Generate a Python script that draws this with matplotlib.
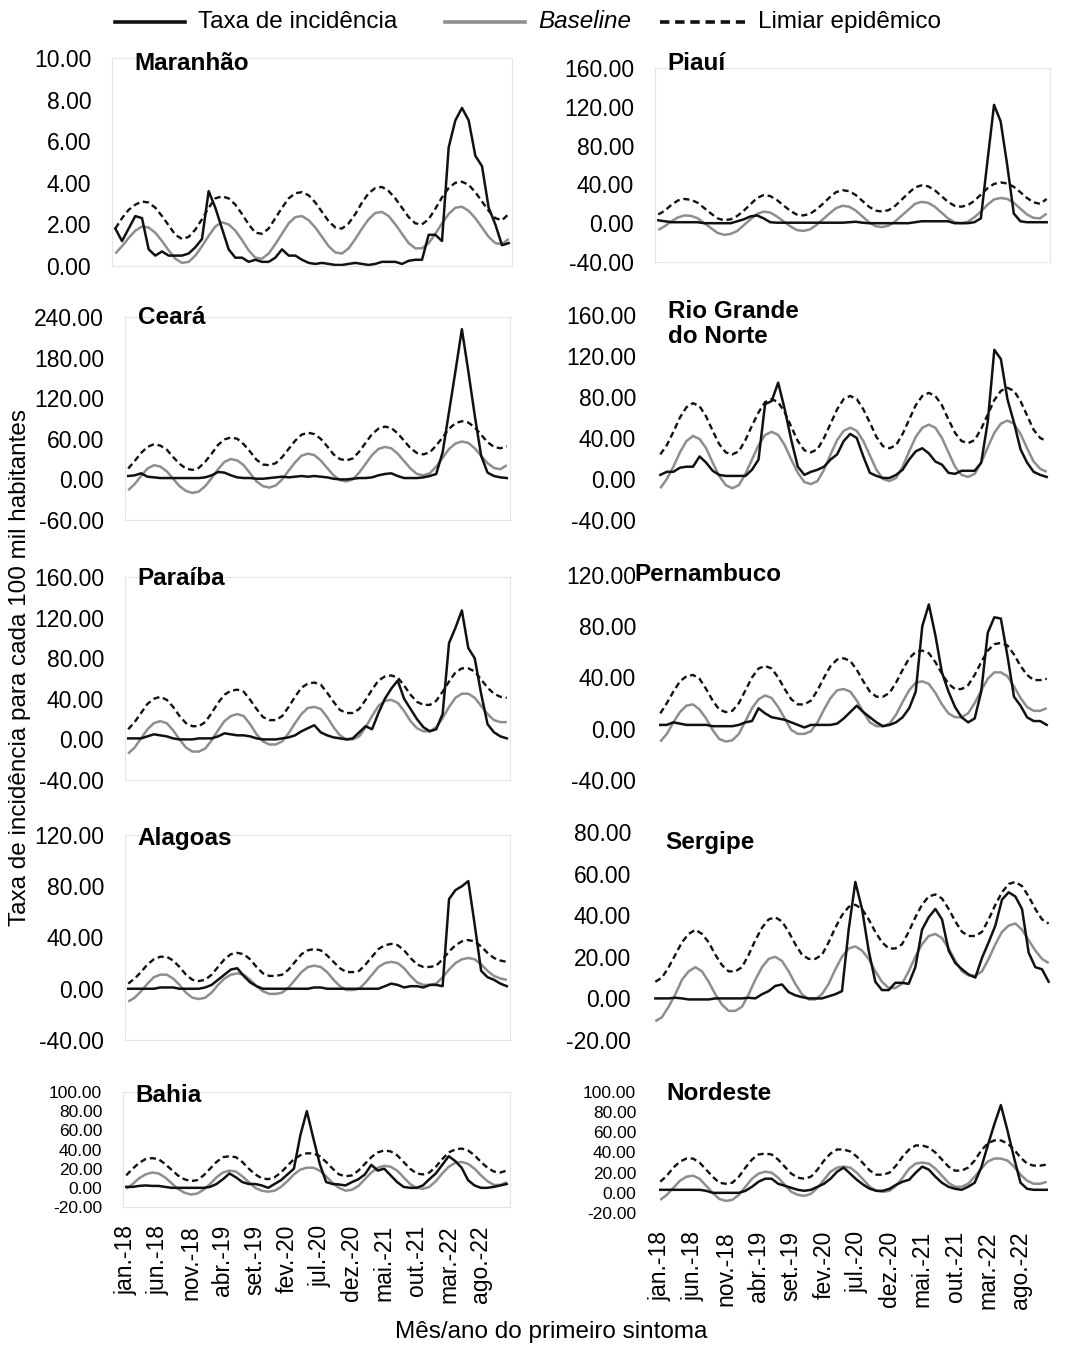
import numpy as np
import matplotlib.pyplot as plt
from matplotlib.lines import Line2D

plt.rcParams['font.family'] = ['Liberation Sans', 'DejaVu Sans']

W, H = 1072, 1351

# months jan/2018 .. dec/2022, labels every 5 months
rotulos_x = ['jan.-18', 'jun.-18', 'nov.-18', 'abr.-19', 'set.-19', 'fev.-20',
             'jul.-20', 'dez.-20', 'mai.-21', 'out.-21', 'mar.-22', 'ago.-22']

# --- Maranhão
maranhao_taxa = [1.8, 1.2, 1.8, 2.4, 2.3, 0.8, 0.5, 0.7, 0.5, 0.5, 0.5, 0.6,
                 0.9, 1.3, 3.6, 2.8, 1.8, 0.8, 0.4, 0.4, 0.2, 0.3, 0.2, 0.2,
                 0.4, 0.8, 0.5, 0.5, 0.3, 0.15, 0.1, 0.15, 0.1, 0.05, 0.05, 0.1,
                 0.15, 0.1, 0.05, 0.1, 0.2, 0.2, 0.2, 0.1, 0.25, 0.3, 0.3, 1.5,
                 1.5, 1.2, 5.7, 7.0, 7.6, 7.0, 5.3, 4.8, 2.8, 2.0, 1.0, 1.1]
maranhao_base = [0.6, 0.95, 1.35, 1.7, 1.9, 1.85, 1.6, 1.2, 0.75, 0.35, 0.15, 0.2,
                 0.5, 0.95, 1.45, 1.9, 2.1, 2.0, 1.7, 1.25, 0.75, 0.4, 0.35, 0.6,
                 1.05, 1.55, 2.05, 2.35, 2.4, 2.2, 1.85, 1.4, 0.95, 0.65, 0.6, 0.85,
                 1.3, 1.8, 2.25, 2.55, 2.6, 2.4, 2.0, 1.55, 1.1, 0.85, 0.85, 1.1,
                 1.55, 2.05, 2.5, 2.8, 2.85, 2.65, 2.3, 1.85, 1.4, 1.1, 1.05, 1.3]
maranhao_limiar = [1.8, 2.3, 2.7, 2.95, 3.1, 3.05, 2.8, 2.4, 1.95, 1.5, 1.3, 1.4,
                   1.75, 2.25, 2.8, 3.25, 3.35, 3.25, 2.95, 2.5, 2.0, 1.6, 1.55, 1.8,
                   2.3, 2.8, 3.25, 3.5, 3.55, 3.4, 3.05, 2.6, 2.15, 1.85, 1.8, 2.05,
                   2.5, 3.05, 3.5, 3.75, 3.8, 3.6, 3.25, 2.8, 2.35, 2.05, 2.0, 2.25,
                   2.75, 3.3, 3.75, 4.0, 4.05, 3.9, 3.55, 3.1, 2.65, 2.3, 2.2, 2.5]

# --- Piauí
piaui_taxa = [3, 2, 1, 1, 1, 1, 1, 0, 0, 0, 0, 0,
              2, 4, 7, 8, 5, 1, 0.5, 0.5, 0.5, 0.5, 0.5, 0.5,
              0.5, 0.5, 0.5, 0.5, 0.5, 1, 1.5, 0.5, 0, 0, 0, 0,
              0, 0, 0, 1, 2, 2, 2, 2, 2, 0, 0, 0,
              1, 5, 64, 122, 105, 60, 10, 2, 1, 1, 1, 1]
piaui_base = [-7, -3, 2, 6, 8, 7.5, 5, 0, -5, -10, -12, -11,
              -8, -2, 4, 9.5, 12, 11, 7, 2, -3, -7, -8, -6.5,
              -2, 4, 10, 15.5, 18, 17, 13, 7, 1, -3, -4, -2.5,
              2, 8, 14, 20, 22, 21, 17, 11, 5, 1, 0, 1.5,
              6, 12, 19, 24.5, 26, 25, 21, 15, 9, 5.5, 5, 10]
piaui_limiar = [9, 13, 19, 23.5, 25, 24, 21, 15.5, 10, 5, 3, 4,
                7.5, 13, 19.5, 26, 29, 28, 24, 18.5, 13, 9, 8, 9.5,
                14, 20, 26.5, 32, 34, 33, 29, 23, 17, 13, 12, 13.5,
                18, 24.5, 31, 37, 39, 38, 34, 28, 22, 18, 17, 18.5,
                23, 29.5, 36, 40.5, 42, 41, 37.5, 32, 26, 21.5, 20, 25]

# --- Ceará
ceara_taxa = [5, 6, 9, 4, 3, 2, 2, 2, 2, 2, 2, 2,
              3, 6, 11, 10, 6, 3, 2, 2, 1, 1, 2, 3,
              4, 3, 4, 5, 4, 5, 4, 3, 1, 0, 0, 1,
              2, 2, 3, 6, 8, 9, 5, 2, 2, 2, 3, 5,
              8, 40, 100, 160, 222, 160, 95, 35, 10, 5, 3, 2]
ceara_base = [-16, -7, 5, 16, 21, 19, 12, 1, -10, -17, -20, -18,
              -10, 2, 15, 26, 30, 28, 21, 9, -3, -10, -12, -9,
              0, 13, 25, 35, 38, 36, 28, 17, 6, -1, -3, 0,
              10, 23, 36, 45, 48, 46, 38, 27, 16, 8, 6, 9,
              19, 32, 45, 53, 56, 54, 46, 35, 24, 17, 15, 21]
ceara_limiar = [16, 27, 39, 48, 52, 50, 44, 33, 23, 16, 14, 17,
                26, 38, 51, 59, 62, 60, 52, 41, 29, 22, 21, 24,
                33, 45, 57, 66, 69, 67, 60, 49, 37, 30, 28, 31,
                41, 54, 67, 75, 78, 76, 68, 57, 46, 39, 37, 40,
                50, 62, 75, 83, 86, 84, 77, 66, 55, 48, 46, 49]

# --- Rio Grande do Norte
rgn_taxa = [4, 7, 7, 11, 12, 12, 22, 16, 8, 4, 3, 3,
            3, 3, 9, 19, 73, 76, 94, 68, 38, 12, 4, 7,
            9, 12, 19, 24, 37, 44, 40, 22, 6, 3, 1, 1,
            4, 9, 19, 27, 30, 25, 17, 14, 6, 5, 8, 8,
            8, 16, 56, 126, 117, 78, 55, 29, 16, 7, 4, 2]
rgn_base = [-9, 0, 12, 26, 37, 42, 39, 30, 16, 3, -6, -9,
            -6, 5, 19, 33, 43, 46, 43, 33, 19, 6, -3, -5,
            -2, 9, 24, 38, 47, 50, 47, 37, 23, 9, 0, -2,
            1, 12, 27, 41, 50, 53, 50, 40, 26, 12, 4, 2,
            5, 16, 31, 45, 54, 57, 54, 44, 30, 17, 10, 7]
rgn_limiar = [24, 33, 46, 60, 70, 74, 71, 61, 47, 34, 26, 24,
              27, 38, 52, 65, 75, 78, 75, 65, 51, 37, 28, 26,
              29, 40, 54, 68, 78, 81, 78, 68, 55, 41, 32, 30,
              33, 44, 58, 72, 81, 84, 81, 72, 58, 45, 37, 35,
              38, 49, 63, 77, 86, 89, 86, 76, 62, 48, 40, 37]

# --- Paraíba
paraiba_taxa = [1, 1, 1, 3, 5, 4, 3, 1, 0, 0, 0, 1,
                1, 1, 3, 6, 5, 4, 4, 3, 1, 0, 0, 0,
                1, 2, 4, 8, 11, 14, 7, 4, 2, 1, 0, 1,
                7, 13, 10, 26, 40, 50, 58, 40, 30, 20, 12, 8,
                10, 25, 95, 110, 127, 90, 80, 45, 15, 7, 3, 1]
paraiba_base = [-14, -8, 1, 10, 16, 18, 16, 9, 0, -8, -12, -12,
                -9, -1, 9, 18, 23, 25, 23, 15, 5, -2, -5, -5,
                -2, 6, 16, 25, 31, 32, 30, 22, 12, 4, 0, 0,
                3, 12, 23, 33, 38, 39, 36, 28, 18, 11, 8, 8,
                12, 21, 32, 41, 45, 45, 41, 33, 25, 19, 17, 17]
paraiba_limiar = [10, 17, 26, 35, 40, 42, 39, 32, 23, 16, 13, 13,
                  17, 26, 36, 44, 48, 49, 47, 39, 30, 22, 19, 19,
                  23, 32, 42, 51, 55, 56, 54, 46, 37, 29, 26, 26,
                  30, 39, 49, 58, 62, 63, 61, 53, 44, 37, 34, 34,
                  38, 47, 57, 66, 70, 70, 67, 59, 51, 45, 42, 41]

# --- Pernambuco
pernambuco_taxa = [3, 3, 5, 4, 3, 3, 3, 3, 2, 2, 2, 2,
                   3, 5, 6, 16, 12, 9, 8, 7, 5, 3, 1, 3,
                   3, 3, 3, 4, 8, 13, 18, 13, 9, 5, 2, 3,
                   5, 9, 16, 29, 80, 97, 73, 44, 29, 17, 9, 5,
                   8, 29, 75, 87, 86, 57, 25, 18, 9, 6, 6, 3]
pernambuco_base = [-10, -4, 5, 13, 18, 19, 15, 8, -1, -8, -10, -9,
                   -4, 6, 16, 23, 26, 24, 17, 8, -1, -4, -4, -2,
                   5, 15, 24, 30, 31, 29, 22, 13, 5, 2, 2, 4,
                   11, 21, 30, 36, 37, 35, 28, 19, 12, 9, 9, 12,
                   20, 30, 39, 44, 44, 41, 33, 24, 17, 14, 14, 16]
pernambuco_limiar = [12, 20, 29, 37, 41, 42, 39, 31, 22, 15, 13, 14,
                     20, 30, 40, 47, 49, 47, 40, 31, 23, 19, 19, 22,
                     30, 40, 49, 54, 55, 53, 46, 37, 29, 25, 25, 28,
                     36, 46, 55, 60, 61, 59, 52, 43, 35, 31, 31, 34,
                     42, 52, 61, 66, 67, 65, 58, 49, 42, 38, 38, 39]

# --- Alagoas
alagoas_taxa = [0, 0, 0, 0, 0, 1, 1, 1, 0, 0, 0, 0,
                1, 3, 7, 11, 15, 16, 10, 5, 2, 0, 0, 0,
                0, 0, 0, 0, 0, 1, 1, 0, 0, 0, 0, 0,
                0, 0, 0, 0, 2, 4, 3, 1, 2, 2, 1, 3,
                3, 2, 70, 77, 80, 84, 50, 14, 9, 7, 4, 2]
alagoas_base = [-10, -7, -2, 4, 9, 11, 11, 8, 3, -3, -7, -8,
                -7, -3, 3, 8, 11, 12, 11, 7, 2, -2, -4, -4,
                -3, 1, 7, 13, 17, 18, 17, 13, 7, 2, -1, -1,
                0, 5, 11, 17, 20, 21, 20, 16, 10, 5, 3, 3,
                4, 9, 15, 20, 23, 24, 23, 19, 14, 10, 8, 7]
alagoas_limiar = [4, 8, 13, 19, 23, 25, 25, 22, 17, 11, 7, 6,
                  7, 11, 17, 23, 27, 28, 27, 23, 17, 12, 10, 10,
                  11, 15, 21, 27, 30, 31, 30, 26, 21, 16, 13, 13,
                  14, 19, 25, 31, 34, 35, 34, 30, 24, 19, 17, 17,
                  18, 23, 29, 34, 37, 38, 37, 33, 28, 24, 22, 21]

# --- Sergipe
sergipe_taxa = [0, 0, 0, 0.3, 0, -0.5, -0.5, -0.5, -0.5, 0, 0, 0,
                0, 0, 0.3, 0, 2, 3.5, 6, 6.7, 3, 1.5, 0.6, 0,
                0, 0, 1, 2, 3.5, 33, 56, 43, 23, 8, 4, 4,
                7.5, 7.5, 7, 15, 33, 39, 43, 38, 23, 17, 14, 11.5,
                10, 19.5, 27, 35, 47.5, 51, 49, 43, 22, 15, 14, 8]
sergipe_base = [-11, -9, -4, 2, 9, 13, 15, 13, 8, 2, -3, -6,
                -6, -4, 2, 9, 15, 19, 20, 18, 13, 7, 2, -0.5,
                -0.5, 2, 7, 14, 20, 24, 25, 23, 19, 13, 8, 5,
                5, 7, 13, 20, 26, 30, 31, 29, 24, 18, 13, 11,
                11, 13, 19, 26, 32, 35, 36, 33, 28, 23, 19, 17]
sergipe_limiar = [8, 10, 15, 21, 27, 31, 33, 31, 27, 21, 16, 13,
                  13, 15, 21, 28, 34, 38, 39, 37, 32, 26, 21, 19,
                  19, 21, 27, 34, 40, 44, 45, 43, 38, 32, 27, 24,
                  24, 26, 32, 39, 45, 49, 50, 48, 43, 37, 32, 30,
                  30, 32, 38, 45, 51, 55, 56, 54, 49, 43, 38, 36]

# --- Bahia
bahia_taxa = [1, 1, 2, 2.5, 2, 2, 1, 0, 0, 0, 0, 0,
              0, 1, 4, 9, 15, 11, 6, 4, 4, 2.5, 0, 4,
              8, 14, 20, 55, 80, 52, 25, 6, 4, 3.5, 2.5, 6,
              9, 14, 24, 18, 20, 13, 6, 1, 0, 0, 2.5, 9,
              15, 24, 33, 28, 21, 8, 2.5, 0, 0, 1, 2.5, 4]
bahia_base = [-1, 4, 10, 14, 16, 15, 11, 5, -1, -5, -7, -6,
              -2, 4, 11, 16, 18, 17, 12, 6, 0, -3, -4, -3,
              1, 7, 14, 19, 21, 21, 18, 12, 5, 0, -3, -2,
              2, 9, 16, 21, 23, 22, 18, 11, 4, 0, -1, 1,
              7, 15, 22, 26, 27, 25, 20, 13, 7, 3, 3, 6]
bahia_limiar = [13, 20, 26, 30, 31, 30, 25, 19, 13, 9, 7, 8,
                13, 20, 27, 32, 33, 32, 27, 20, 14, 10, 9, 11,
                16, 23, 30, 34, 36, 36, 33, 27, 20, 14, 12, 13,
                18, 25, 32, 37, 39, 38, 34, 27, 20, 15, 14, 16,
                22, 30, 37, 40, 41, 39, 34, 27, 21, 17, 16, 18]

# --- Nordeste
nordeste_taxa = [3, 3, 3, 3, 3, 3, 3, 2, 0, 0, 0, 0,
                 0, 2, 6, 11, 14, 14, 9, 7, 5, 3, 2, 3,
                 6, 9, 14, 21, 25, 19, 13, 8, 4, 2, 2, 4,
                 8, 11, 13, 20, 26, 23, 16, 10, 6, 4, 3, 6,
                 10, 25, 47, 68, 87, 62, 35, 10, 4, 3, 3, 3]
nordeste_base = [-7, -2, 5, 12, 16, 17, 14, 7, 0, -6, -8, -7,
                 -2, 6, 14, 19, 21, 20, 15, 8, 1, -2, -3, -1,
                 5, 13, 21, 25, 26, 25, 20, 13, 6, 2, 1, 2,
                 7, 15, 24, 29, 30, 29, 24, 17, 10, 6, 6, 9,
                 16, 24, 31, 34, 34, 32, 26, 18, 12, 9, 9, 11]
nordeste_limiar = [11, 17, 25, 31, 34, 34, 30, 23, 16, 10, 9, 10,
                   16, 25, 33, 38, 39, 38, 33, 26, 19, 15, 14, 16,
                   23, 32, 39, 43, 43, 41, 36, 29, 22, 18, 18, 20,
                   27, 36, 43, 47, 47, 45, 40, 33, 26, 22, 22, 25,
                   32, 42, 49, 52, 52, 49, 43, 35, 29, 27, 27, 28]

# panel: title, series, y range/step, plot area in px (left, right, y of ymax, y of ymin), frame?, title pos
paineis = [
    ('Maranhão', maranhao_taxa, maranhao_base, maranhao_limiar, (0, 10, 2), (112, 512, 58, 266), True, (134, 63)),
    ('Piauí', piaui_taxa, piaui_base, piaui_limiar, (-40, 160, 40), (655, 1050, 68, 262), True, (667, 63)),
    ('Ceará', ceara_taxa, ceara_base, ceara_limiar, (-60, 240, 60), (125, 510, 317, 520), True, (138, 317)),
    ('Rio Grande\ndo Norte', rgn_taxa, rgn_base, rgn_limiar, (-40, 160, 40), (657, 1050, 315, 520), False, (668, 324)),
    ('Paraíba', paraiba_taxa, paraiba_base, paraiba_limiar, (-40, 160, 40), (125, 510, 577, 780), True, (137, 578)),
    ('Pernambuco', pernambuco_taxa, pernambuco_base, pernambuco_limiar, (-40, 120, 40), (657, 1050, 575, 780), False, (634, 575)),
    ('Alagoas', alagoas_taxa, alagoas_base, alagoas_limiar, (-40, 120, 40), (125, 510, 835, 1040), True, (137, 838)),
    ('Sergipe', sergipe_taxa, sergipe_base, sergipe_limiar, (-20, 80, 20), (652, 1052, 832, 1040), False, (665, 842)),
    ('Bahia', bahia_taxa, bahia_base, bahia_limiar, (-20, 100, 20), (123, 510, 1092, 1207), True, (135, 1095)),
    ('Nordeste', nordeste_taxa, nordeste_base, nordeste_limiar, (-20, 100, 20), (657, 1050, 1092, 1213), False, (666, 1093)),
]

FS_TICK = 16.5
FS_TICK_BAIXO = 12.5   # bottom row: ticks only 20 px apart
FS = 17.5
PRETO = '#111111'
CINZA = '#8e8e8e'
TRACO = (0, (2.6, 1.6))

fig = plt.figure(figsize=(W / 100, H / 100), dpi=100)

for i, (titulo, taxa, base, limiar, (y0, y1, passo), (l, r, yt, yb), moldura, (tx, ty)) in enumerate(paineis):
    ax = fig.add_axes([l / W, 1 - yb / H, (r - l) / W, (yb - yt) / H])
    x = np.arange(len(taxa))
    ax.plot(x, base, color=CINZA, lw=1.8, solid_capstyle='butt')
    ax.plot(x, limiar, color=PRETO, lw=1.7, linestyle=TRACO)
    ax.plot(x, taxa, color=PRETO, lw=1.8)
    ax.set_xlim(-0.5, 59.5)
    ax.set_ylim(y0, y1)
    yt_vals = np.arange(y0, y1 + passo / 2, passo)
    ax.set_yticks(yt_vals)
    ax.set_yticklabels([f'{v:.2f}' for v in yt_vals],
                       fontsize=FS_TICK_BAIXO if i >= 8 else FS_TICK)
    ax.tick_params(axis='y', length=0, pad=15)
    for s in ax.spines.values():
        s.set_visible(moldura)
        s.set_color('#e4e4e4')
        s.set_linewidth(0.8)
    if i >= 8:
        ax.set_xticks(np.arange(0, 60, 5))
        ax.set_xticklabels(rotulos_x, rotation=90, fontsize=16.5)
        ax.tick_params(axis='x', length=0, pad=13)
    else:
        ax.set_xticks([])
    fig.text(tx / W, 1 - ty / H, titulo, fontsize=FS, fontweight='bold',
             ha='left', va='center', linespacing=1.1)

# legend across the top
ly = 1 - 22 / H
for (x0, x1), estilo, cor, rot, it in [((115, 185), '-', PRETO, 'Taxa de incidência', 'normal'),
                                       ((445, 525), '-', CINZA, 'Baseline', 'italic'),
                                       ((660, 745), TRACO, PRETO, 'Limiar epidêmico', 'normal')]:
    fig.add_artist(Line2D([x0 / W, x1 / W], [ly, ly], color=cor, lw=2.6, linestyle=estilo))
    fig.text((x1 + 13) / W, ly, rot, fontsize=FS, fontstyle=it, ha='left', va='center')

fig.text(20 / W, 1 - 668 / H, 'Taxa de incidência para cada 100 mil habitantes',
         rotation=90, fontsize=FS, ha='center', va='center')
fig.text(551 / W, 1 - 1332 / H, 'Mês/ano do primeiro sintoma', fontsize=FS,
         ha='center', va='center')

fig.savefig('out.png', dpi=100, facecolor='white')
